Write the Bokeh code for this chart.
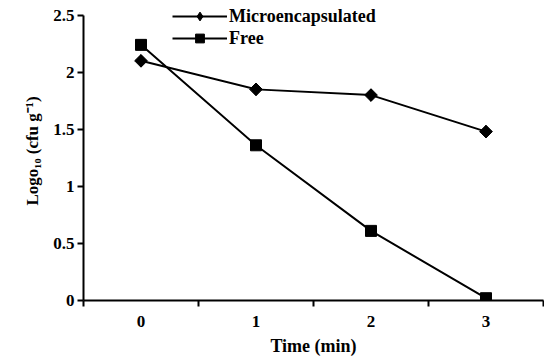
import math
from bokeh.plotting import figure
from bokeh.models import FixedTicker, Legend, LegendItem
from bokeh.embed import file_html
from bokeh.resources import INLINE

# data
time_labels = ["0", "1", "2", "3"]
time_pos = [0, 1, 2, 3]
micro = [2.10, 1.85, 1.80, 1.48]
free = [2.24, 1.36, 0.61, 0.02]
y_ticks = [0, 0.5, 1, 1.5, 2, 2.5]
y_labels = ["0", "0.5", "1", "1.5", "2", "2.5"]

FONT = "Liberation Serif"

p = figure(width=544, height=360, output_backend="svg", toolbar_location=None,
           x_range=(-0.5, 3.5), y_range=(0, 2.62),
           min_border_left=83, min_border_right=1, min_border_top=1, min_border_bottom=60)
p.grid.visible = False
p.outline_line_color = None
p.background_fill_color = "white"
p.border_fill_color = "white"

# x axis
xa = p.xaxis[0]
xa.ticker = FixedTicker(ticks=time_pos, minor_ticks=[-0.5, 0.5, 1.5, 2.5, 3.5])
xa.major_label_overrides = {t: l for t, l in zip(time_pos, time_labels)}
xa.major_tick_out = 0
xa.major_tick_in = 0
xa.minor_tick_out = 6
xa.minor_tick_in = 0
xa.minor_tick_line_width = 2
xa.axis_line_width = 2
xa.major_label_standoff = 9
xa.axis_label = "Time (min)"
xa.axis_label_standoff = 6

# y axis
ya = p.yaxis[0]
ya.ticker = FixedTicker(ticks=y_ticks, minor_ticks=[])
ya.major_label_overrides = {t: l for t, l in zip(y_ticks, y_labels)}
ya.bounds = (0, 2.5)
ya.major_tick_out = 6
ya.major_tick_in = 0
ya.major_tick_line_width = 2
ya.axis_line_width = 2
ya.major_label_standoff = 3
ya.axis_label = "Logo\u2081\u2080 (cfu g\u207b\u00b9)"
ya.axis_label_standoff = 8

for ax in (xa, ya):
    ax.axis_line_color = "black"
    ax.major_tick_line_color = "black"
    ax.minor_tick_line_color = "black"
    ax.major_label_text_font = FONT
    ax.major_label_text_font_size = "17px"
    ax.major_label_text_font_style = "bold"
    ax.major_label_text_color = "black"
    ax.axis_label_text_font = FONT
    ax.axis_label_text_font_size = "18px"
    ax.axis_label_text_font_style = "bold"
    ax.axis_label_text_color = "black"
ya.axis_label_text_font_size = "17px"

l1 = p.line(time_pos, micro, line_color="black", line_width=2)
# diamond used for the legend (legend glyphs ignore marker angle); hidden under rotated squares
m1_leg = p.scatter(time_pos, micro, marker="diamond", size=12,
                   fill_color="black", line_color="black")
m1 = p.scatter(time_pos, micro, marker="square", angle=math.pi / 4, size=9,
               fill_color="black", line_color="black")
l2 = p.line(time_pos, free, line_color="black", line_width=2)
m2 = p.scatter(time_pos, free, marker="square", size=11,
               fill_color="black", line_color="black")

legend = Legend(items=[LegendItem(label="Microencapsulated", renderers=[l1, m1_leg]),
                       LegendItem(label="Free", renderers=[l2, m2])],
                location=(89, 251), glyph_width=55, glyph_height=22, spacing=0,
                padding=0, margin=0, label_standoff=2,
                border_line_color=None, background_fill_alpha=0,
                label_text_font=FONT, label_text_font_size="18px",
                label_text_font_style="bold",
                label_text_color="black")
p.add_layout(legend, "center")

open("out.html", "w").write(file_html(p, INLINE))
